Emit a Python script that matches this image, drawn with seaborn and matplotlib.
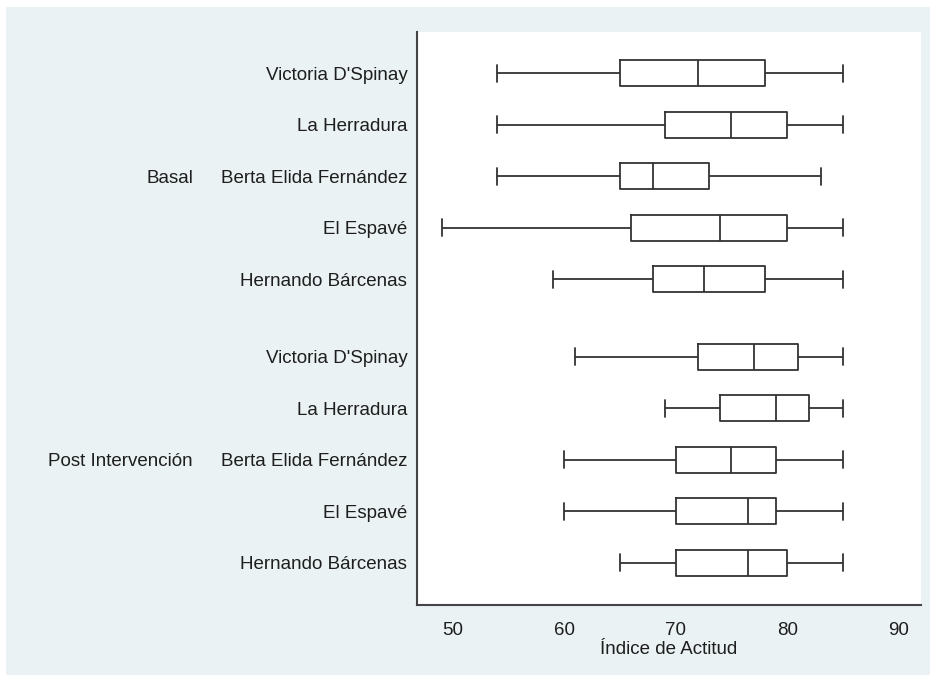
import numpy as np
import pandas as pd
import matplotlib
matplotlib.use("Agg")
import matplotlib.pyplot as plt
import matplotlib.transforms as mtransforms
from matplotlib.patches import Rectangle
import seaborn as sns

# ---- data ----
schools = ["Victoria D'Spinay", "La Herradura", "Berta Elida Fernández",
           "El Espavé", "Hernando Bárcenas"]
phases = ["Basal", "Post Intervención"]

basal_min = [54, 54, 54, 49, 59]
basal_q1 = [65, 69, 65, 66, 68]
basal_med = [72, 75, 68, 74, 72.5]
basal_q3 = [78, 80, 73, 80, 78]
basal_max = [85, 85, 83, 85, 85]

post_min = [61, 69, 60, 60, 65]
post_q1 = [72, 74, 70, 70, 70]
post_med = [77, 79, 75, 76.5, 76.5]
post_q3 = [81, 82, 79, 79, 80]
post_max = [85, 85, 85, 85, 85]

xticks = [50, 60, 70, 80, 90]
xlabel = "Índice de Actitud"

summaries = {
    "Basal": [basal_min, basal_q1, basal_med, basal_q3, basal_max],
    "Post Intervención": [post_min, post_q1, post_med, post_q3, post_max],
}

# ---- build long table ----
rows = []
ypos, ylabels, group_centers = [], [], []
n = len(schools)
for g, ph in enumerate(phases):
    stats = summaries[ph]
    for i, sc in enumerate(schools):
        pos = g * (n + 0.5) + i
        ypos.append(pos)
        ylabels.append(sc)
        for s in stats:
            rows.append({"phase": ph, "school": sc, "pos": pos, "value": s[i]})
    group_centers.append(g * (n + 0.5) + (n - 1) / 2)
df = pd.DataFrame(rows)

# ---- figure ----
sns.set_theme(style="white")
plt.rcParams["font.family"] = ["Liberation Sans", "DejaVu Sans"]

W, H = 937, 681
FS = 13.5
txt_c = "#1e1e1e"
fig = plt.figure(figsize=(W / 100, H / 100), dpi=100, facecolor="white")
bg = Rectangle((6 / W, 1 - 675 / H), (930 - 6) / W, (675 - 7) / H,
               transform=fig.transFigure, facecolor="#eaf2f3",
               edgecolor="none", zorder=-10)
fig.add_artist(bg)
ax = fig.add_axes([417 / W, 1 - 605 / H, (921 - 417) / W, (605 - 32) / H])
ax.set_zorder(1)
ax.set_facecolor("white")

line_c = "#333333"
sns.boxplot(data=df, x="value", y="pos", orient="y", native_scale=True,
            whis=(0, 100), width=0.5, fill=False, color=line_c,
            linewidth=1.3, capwidths=0.33, ax=ax)

ax.set_xlim(46.8, 92.0)
ax.set_ylim(10.32, -0.8)
ax.set_xticks(xticks)
ax.set_xticklabels([str(t) for t in xticks])
ax.set_yticks(ypos)
ax.set_yticklabels(ylabels)
ax.set_ylabel("")
ax.set_xlabel(xlabel, fontsize=FS, color=txt_c, labelpad=1.5)

ax.tick_params(axis="y", length=0, pad=7, labelsize=FS, labelcolor=txt_c)
ax.tick_params(axis="x", direction="out", length=5, width=1.2, color="white",
               pad=7.5, labelsize=FS, labelcolor=txt_c)

for side in ["top", "right"]:
    ax.spines[side].set_visible(False)
for side in ["left", "bottom"]:
    ax.spines[side].set_visible(True)
    ax.spines[side].set_color("#444444")
    ax.spines[side].set_linewidth(1.5)

trans = mtransforms.blended_transform_factory(fig.transFigure, ax.transData)
for ph, yc in zip(phases, group_centers):
    ax.text(193 / W, yc, ph, transform=trans, ha="right", va="center_baseline",
            fontsize=FS, color=txt_c)

fig.savefig("out.png", dpi=100, facecolor="white")
